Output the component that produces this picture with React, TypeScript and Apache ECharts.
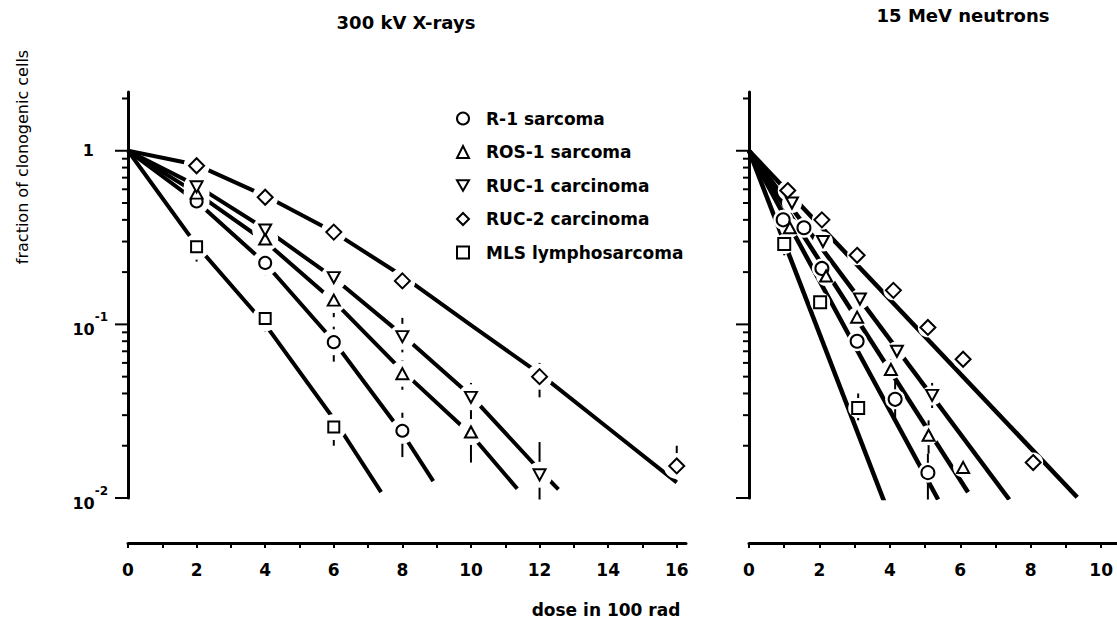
import React, { useEffect, useRef } from 'react';
import * as echarts from 'echarts';

// ---------- text ----------
const CATEGORIES = ['R-1 sarcoma', 'ROS-1 sarcoma', 'RUC-1 carcinoma', 'RUC-2 carcinoma', 'MLS lymphosarcoma'];
const PANEL_TITLES = ['300 kV X-rays', '15 MeV neutrons'];
const X_AXIS_TITLE = 'dose in 100 rad';
const Y_AXIS_TITLE = 'fraction of clonogenic cells';

// ---------- 300 kV X-rays: measured points [dose, fraction] ----------
const xrayR1 = [[2, 0.51], [4, 0.226], [6, 0.079], [8, 0.0244]];
const xrayROS1 = [[2, 0.57], [4, 0.31], [6, 0.138], [8, 0.052], [10, 0.024]];
const xrayRUC1 = [[2, 0.62], [4, 0.35], [6, 0.186], [8, 0.085], [10, 0.038], [12, 0.0136]];
const xrayRUC2 = [[2, 0.82], [4, 0.54], [6, 0.34], [8, 0.178], [12, 0.05], [16, 0.0153]];
const xrayMLS = [[2, 0.28], [4, 0.108], [6, 0.0256]];

// error bars [dose, low, high]
const xrayR1Err = [[2, 0.46, 0.57], [4, 0.19, 0.26], [6, 0.061, 0.097], [8, 0.0172, 0.031]];
const xrayROS1Err = [[4, 0.27, 0.36], [6, 0.11, 0.165], [8, 0.042, 0.062], [10, 0.016, 0.027]];
const xrayRUC1Err = [[2, 0.58, 0.7], [4, 0.31, 0.41], [6, 0.16, 0.215], [8, 0.069, 0.109], [10, 0.028, 0.046], [12, 0.0098, 0.021]];
const xrayRUC2Err = [[8, 0.16, 0.2], [12, 0.038, 0.06], [16, 0.0153, 0.02]];
const xrayMLSErr = [[2, 0.23, 0.32], [4, 0.091, 0.124], [6, 0.02, 0.028]];

// fitted survival curves
const xrayR1Fit = [[0, 1], [2, 0.51], [4, 0.225], [6, 0.08], [8, 0.0236], [8.9, 0.0125]];
const xrayROS1Fit = [[0, 1], [2, 0.57], [4, 0.3], [6, 0.136], [8, 0.054], [10, 0.0232], [11.35, 0.0113]];
const xrayRUC1Fit = [[0, 1], [2, 0.63], [4, 0.355], [6, 0.185], [8, 0.087], [10, 0.0388], [12, 0.0145], [12.55, 0.0112]];
const xrayRUC2Fit = [[0, 1], [2, 0.83], [4, 0.55], [6, 0.34], [8, 0.19], [10, 0.099], [12, 0.052], [14, 0.0253], [16, 0.0123]];
const xrayMLSFit = [[0, 1], [2, 0.285], [4, 0.1], [6, 0.0285], [7.38, 0.0108]];

// ---------- 15 MeV neutrons ----------
const neutR1 = [[0.97, 0.4], [1.56, 0.36], [2.07, 0.21], [3.07, 0.08], [4.15, 0.037], [5.08, 0.014]];
const neutROS1 = [[1.16, 0.36], [2.19, 0.19], [3.07, 0.11], [4.03, 0.055], [5.1, 0.023], [6.08, 0.015]];
const neutRUC1 = [[1.22, 0.5], [2.1, 0.3], [3.15, 0.14], [4.2, 0.07], [5.2, 0.039]];
const neutRUC2 = [[1.1, 0.59], [2.07, 0.4], [3.07, 0.25], [4.1, 0.157], [5.08, 0.096], [6.08, 0.063], [8.07, 0.016]];
const neutMLS = [[1.0, 0.29], [2.02, 0.134], [3.1, 0.033]];

const neutR1Err = [[4.15, 0.029, 0.047], [5.08, 0.0098, 0.018]];
const neutROS1Err = [[4.03, 0.05, 0.063], [5.1, 0.018, 0.028]];
const neutRUC1Err = [[4.2, 0.064, 0.077], [5.2, 0.033, 0.046]];
const neutRUC2Err: number[][] = [];
const neutMLSErr = [[1.0, 0.25, 0.33], [2.02, 0.12, 0.15], [3.1, 0.028, 0.04]];

const neutR1Fit = [[0, 1], [5.37, 0.0098]];
const neutROS1Fit = [[0, 1], [6.22, 0.0108]];
const neutRUC1Fit = [[0, 1], [7.39, 0.0098]];
const neutRUC2Fit = [[0, 1], [9.32, 0.0101]];
const neutMLSFit = [[0, 1], [3.86, 0.0093]];

// ---------- ticks ----------
const Y_MAJOR_TICKS = [0.01, 0.1, 1];
const Y_MINOR_TICKS = [0.02, 0.03, 0.04, 0.05, 0.06, 0.07, 0.08, 0.09, 0.2, 0.3, 0.4, 0.5, 0.6, 0.7, 0.8, 0.9, 2];
const X_TICKS_LEFT = [0, 1, 2, 3, 4, 5, 6, 7, 8, 9, 10, 11, 12, 13, 14, 15, 16];
const X_LABELS_LEFT = [0, 2, 4, 6, 8, 10, 12, 14, 16];
const X_TICKS_RIGHT = [0, 1, 2, 3, 4, 5, 6, 7, 8, 9, 10];
const X_LABELS_RIGHT = [0, 2, 4, 6, 8, 10];

const FONT = 'DejaVu Sans';
const DOWN_TRI = 'path://M0,0L12,0L6,10.4Z';
const SYMBOLS = ['circle', 'triangle', DOWN_TRI, 'diamond', 'rect'];
const SIZES_LEFT: any[] = [12, [12, 11], [12, 11], 15, 11];
const SIZES_RIGHT: any[] = [13, [12, 11], [12, 11], 15, 12];

const PANELS = [
  {
    points: [xrayR1, xrayROS1, xrayRUC1, xrayRUC2, xrayMLS],
    errs: [xrayR1Err, xrayROS1Err, xrayRUC1Err, xrayRUC2Err, xrayMLSErr],
    fits: [xrayR1Fit, xrayROS1Fit, xrayRUC1Fit, xrayRUC2Fit, xrayMLSFit],
    sizes: SIZES_LEFT, haloR: 13, lineWidth: 4,
  },
  {
    points: [neutR1, neutROS1, neutRUC1, neutRUC2, neutMLS],
    errs: [neutR1Err, neutROS1Err, neutRUC1Err, neutRUC2Err, neutMLSErr],
    fits: [neutR1Fit, neutROS1Fit, neutRUC1Fit, neutRUC2Fit, neutMLSFit],
    sizes: SIZES_RIGHT, haloR: 10, lineWidth: 4.5,
  },
];

function tickSeries(gridIdx: number, values: number[], len: number, name: string) {
  return {
    type: 'custom', name, xAxisIndex: gridIdx, yAxisIndex: gridIdx, silent: true, clip: false, z: 6,
    data: values.map((v) => [0, v]),
    renderItem: (params: any, api: any) => {
      const p = api.coord([0, api.value(1)]);
      return { type: 'line', shape: { x1: p[0] - len, y1: p[1], x2: p[0], y2: p[1] }, style: { stroke: '#000', lineWidth: 2 } };
    },
  };
}

function buildSeries() {
  const series: any[] = [];
  PANELS.forEach((panel, pi) => {
    panel.fits.forEach((fit, ci) => {
      series.push({
        type: 'line', name: CATEGORIES[ci] + ' fit ' + pi, xAxisIndex: pi, yAxisIndex: pi,
        data: fit, showSymbol: false, symbol: 'none', silent: true, z: 2,
        lineStyle: { color: '#000', width: panel.lineWidth, cap: 'butt' },
      });
    });
    const errRows: number[][] = [];
    panel.errs.forEach((e) => e.forEach((r) => errRows.push(r)));
    series.push({
      type: 'custom', name: 'error bars ' + pi, xAxisIndex: pi, yAxisIndex: pi, silent: true, z: 3,
      data: errRows, encode: { x: 0, y: [1, 2] },
      renderItem: (params: any, api: any) => {
        const a = api.coord([api.value(0), api.value(1)]);
        const b = api.coord([api.value(0), api.value(2)]);
        return { type: 'line', shape: { x1: a[0], y1: a[1], x2: b[0], y2: b[1] }, style: { stroke: '#000', lineWidth: 2 } };
      },
    });
    const all: number[][] = [];
    panel.points.forEach((pts) => pts.forEach((p) => all.push(p)));
    const r = panel.haloR;
    series.push({
      type: 'custom', name: 'halo ' + pi, xAxisIndex: pi, yAxisIndex: pi, silent: true, z: 4,
      data: all,
      renderItem: (params: any, api: any) => {
        const c = api.coord([api.value(0), api.value(1)]);
        return { type: 'circle', shape: { cx: c[0], cy: c[1], r }, style: { fill: '#fff' } };
      },
    });
    panel.points.forEach((pts, ci) => {
      series.push({
        type: 'scatter', name: CATEGORIES[ci], xAxisIndex: pi, yAxisIndex: pi, silent: true, z: 5,
        data: pts, symbol: SYMBOLS[ci], symbolSize: panel.sizes[ci],
        itemStyle: { color: '#fff', borderColor: '#000', borderWidth: 2, opacity: 1 },
      });
    });
    series.push(tickSeries(pi, Y_MAJOR_TICKS, 13, 'major ticks ' + pi));
    series.push(tickSeries(pi, Y_MINOR_TICKS, 6, 'minor ticks ' + pi));
  });
  return series;
}

const textBold = { fontFamily: FONT, fontWeight: 'bold' as const, color: '#000' };

function yLabel(v: number) {
  const l = Math.log10(v);
  const e = Math.round(l);
  if (Math.abs(l - e) > 1e-6) return '';
  if (e === 0) return '{one|1}';
  return '{b|10}{s|-' + Math.abs(e) + '}';
}

function xAxisCfg(gridIndex: number, max: number, ticks: number[], labels: number[]) {
  return {
    type: 'value', gridIndex, min: 0, max, offset: 45,
    axisLine: { show: true, lineStyle: { color: '#000', width: 3 } },
    axisTick: { show: true, customValues: ticks, length: 5, lineStyle: { color: '#000', width: 2 } },
    axisLabel: { customValues: labels, margin: 18, fontSize: 17, ...textBold },
    splitLine: { show: false },
  };
}

function yAxisCfg(gridIndex: number, showLabels: boolean) {
  return {
    type: 'log', logBase: 10, gridIndex, min: 0.01, max: 2.18,
    axisLine: { show: true, lineStyle: { color: '#000', width: 3 } },
    axisTick: { show: false },
    splitLine: { show: false },
    minorTick: { show: false },
    axisLabel: {
      show: showLabels, margin: 20, formatter: yLabel,
      rich: {
        one: { fontSize: 16, ...textBold, padding: [0, 14, 0, 0] },
        b: { fontSize: 16, ...textBold, lineHeight: 26, verticalAlign: 'bottom' },
        s: { fontSize: 12, ...textBold, lineHeight: 12, verticalAlign: 'top' },
      },
    },
  };
}

export default function App() {
  const ref = useRef<HTMLDivElement>(null);
  useEffect(() => {
    if (!ref.current) return;
    const chart = echarts.init(ref.current, undefined, { renderer: 'svg' });
    chart.setOption({
      animation: false,
      backgroundColor: '#fff',
      title: [
        { text: PANEL_TITLES[0], left: 406, top: 13, padding: 0, textAlign: 'center', textStyle: { fontSize: 18, ...textBold } },
        { text: PANEL_TITLES[1], left: 963, top: 6, padding: 0, textAlign: 'center', textStyle: { fontSize: 18, ...textBold } },
      ],
      legend: {
        orient: 'vertical', left: 456, top: 110, padding: 0, itemWidth: 12, itemHeight: 12, itemGap: 16.5,
        selectedMode: false,
        data: CATEGORIES.map((n, i) => ({ name: n, icon: SYMBOLS[i] })),
        itemStyle: { color: '#fff', borderColor: '#000', borderWidth: 2 },
        textStyle: { fontSize: 17, ...textBold, padding: [0, 0, 0, 12] },
      },
      grid: [
        { left: 128, top: 92, width: 558, height: 406, outerBoundsMode: 'none', containLabel: false },
        { left: 749, top: 92, width: 368, height: 406, outerBoundsMode: 'none', containLabel: false },
      ],
      xAxis: [xAxisCfg(0, 16.27, X_TICKS_LEFT, X_LABELS_LEFT), xAxisCfg(1, 10.45, X_TICKS_RIGHT, X_LABELS_RIGHT)],
      yAxis: [yAxisCfg(0, true), yAxisCfg(1, false)],
      graphic: [
        {
          type: 'text', x: 22, y: 157, rotation: Math.PI / 2, silent: true,
          style: { text: Y_AXIS_TITLE, fontSize: 16, fontFamily: FONT, fill: '#000', align: 'center', verticalAlign: 'middle' },
        },
        {
          type: 'text', x: 606, y: 610, silent: true,
          style: { text: X_AXIS_TITLE, fontSize: 17, fontFamily: FONT, fontWeight: 'bold', fill: '#000', align: 'center', verticalAlign: 'middle' },
        },
      ],
      series: buildSeries(),
    });
    return () => chart.dispose();
  }, []);
  return <div ref={ref} style={{ position: 'fixed', left: 0, top: 0, width: 1117, height: 622 }} />;
}
